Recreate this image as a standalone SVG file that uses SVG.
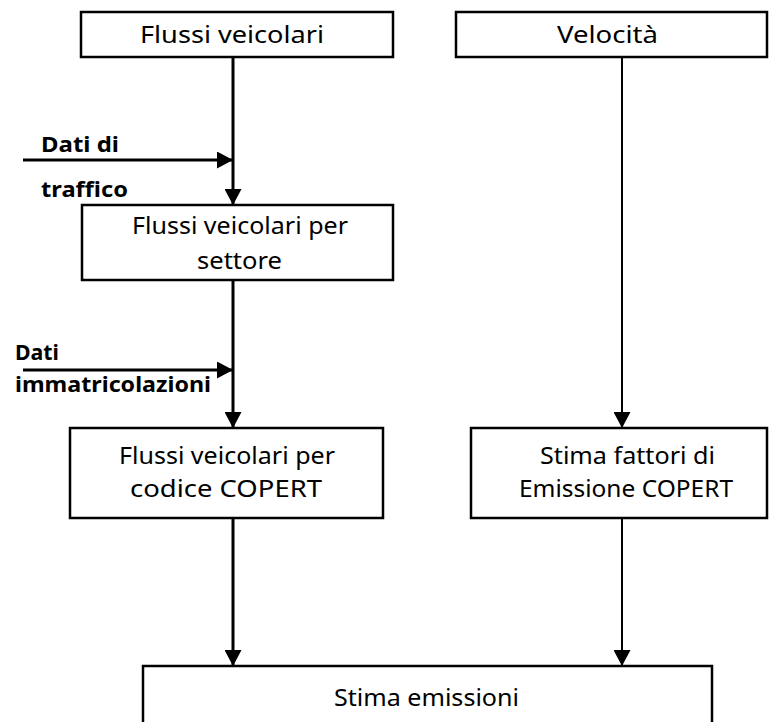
<svg xmlns="http://www.w3.org/2000/svg" width="770" height="722" viewBox="0 0 770 722">
  <style>
    .box { fill: #ffffff; stroke: #000000; stroke-width: 2.5; }
    .t { font-family: "Noto Sans", "Open Sans", sans-serif; font-size: 24px; fill: #000000; }
    .lbl { font-family: "Noto Sans", "Open Sans", sans-serif; font-size: 21px; font-weight: bold; fill: #000000; }
    .c { stroke: #000000; stroke-width: 3; fill: none; marker-end: url(#ah); }
    .c2 { stroke: #000000; stroke-width: 2; fill: none; marker-end: url(#ah); }
  </style>
  <defs>
    <marker id="ah" markerUnits="userSpaceOnUse" markerWidth="16" markerHeight="17" refX="16" refY="8.5" orient="auto">
      <path d="M0,0 L16,8.5 L0,17 Z" fill="#000000"/>
    </marker>
  </defs>
  <rect width="770" height="722" fill="#ffffff"/>

  <g id="connectors">
    <line class="c" x1="233" y1="57" x2="233" y2="205"/>
    <line class="c" x1="23" y1="160" x2="233" y2="160"/>
    <line class="c" x1="233" y1="280" x2="233" y2="428"/>
    <line class="c" x1="23" y1="370" x2="233" y2="370"/>
    <line class="c2" x1="622" y1="57" x2="622" y2="428"/>
    <line class="c" x1="233" y1="518" x2="233" y2="666"/>
    <line class="c2" x1="622" y1="518" x2="622" y2="666"/>
  </g>

  <g id="flussi">
    <rect class="box" x="81" y="12" width="312" height="45"/>
    <text class="t" x="140" y="43" textLength="184" lengthAdjust="spacingAndGlyphs">Flussi veicolari</text>
  </g>
  <g id="velocita">
    <rect class="box" x="456" y="12" width="311" height="45"/>
    <text class="t" x="557" y="43" textLength="101" lengthAdjust="spacingAndGlyphs">Velocità</text>
  </g>
  <g id="label-traffico">
    <text class="lbl" x="41" y="152" textLength="78" lengthAdjust="spacingAndGlyphs">Dati di</text>
    <text class="lbl" x="41" y="197" textLength="87" lengthAdjust="spacingAndGlyphs">traffico</text>
  </g>
  <g id="flussi-settore">
    <rect class="box" x="82" y="205" width="311" height="75"/>
    <text class="t" x="132" y="234" textLength="216" lengthAdjust="spacingAndGlyphs">Flussi veicolari per</text>
    <text class="t" x="197" y="269" textLength="85" lengthAdjust="spacingAndGlyphs">settore</text>
  </g>
  <g id="label-immatricolazioni">
    <text class="lbl" x="15" y="360" textLength="44" lengthAdjust="spacingAndGlyphs">Dati</text>
    <text class="lbl" x="15" y="392" textLength="196" lengthAdjust="spacingAndGlyphs">immatricolazioni</text>
  </g>
  <g id="flussi-copert">
    <rect class="box" x="70" y="428" width="313" height="90"/>
    <text class="t" x="119" y="464" textLength="216" lengthAdjust="spacingAndGlyphs">Flussi veicolari per</text>
    <text class="t" x="130" y="497" textLength="192" lengthAdjust="spacingAndGlyphs">codice COPERT</text>
  </g>
  <g id="fattori">
    <rect class="box" x="471" y="428" width="296" height="90"/>
    <text class="t" x="540" y="464" textLength="175" lengthAdjust="spacingAndGlyphs">Stima fattori di</text>
    <text class="t" x="519" y="497" textLength="214" lengthAdjust="spacingAndGlyphs">Emissione COPERT</text>
  </g>
  <g id="emissioni">
    <rect class="box" x="143" y="666" width="569" height="70"/>
    <text class="t" x="334" y="706" textLength="185" lengthAdjust="spacingAndGlyphs">Stima emissioni</text>
  </g>
</svg>
